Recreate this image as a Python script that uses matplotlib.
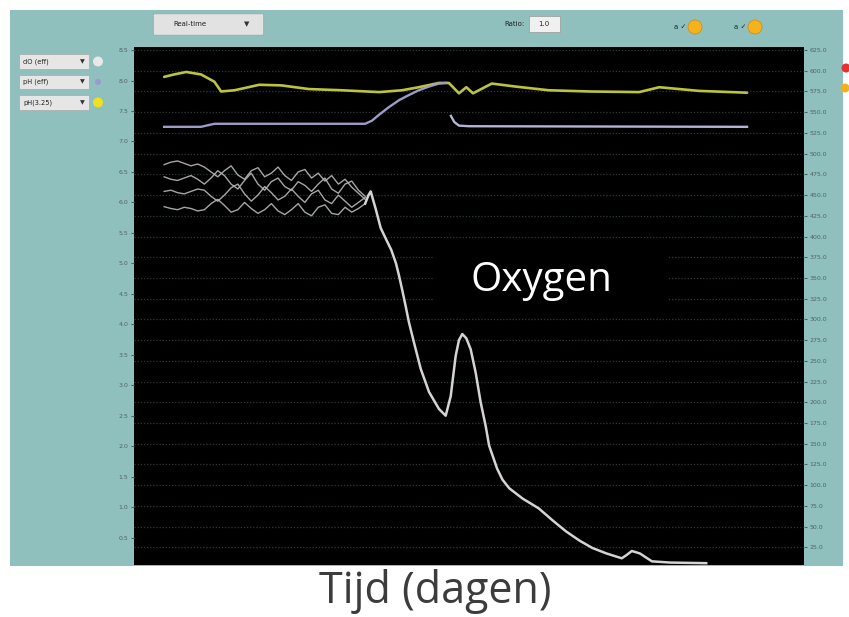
import matplotlib
matplotlib.use("Agg")
import matplotlib.pyplot as plt
from matplotlib.patches import Rectangle, FancyBboxPatch, Ellipse

# ---------------- data ----------------
# time axis (arbitrary units across the plot, 0..100)
ph_time = [4.5, 6.0, 7.8, 10.0, 12.0, 13.0, 15.0, 18.7, 22.0, 26.1, 31.0, 36.6, 40.0,
           42.5, 45.5, 47.0, 48.5, 49.6, 50.6, 53.4, 57.0, 61.9, 68.0, 75.4, 78.4, 84.3, 91.5]
ph_values = [8.06, 8.10, 8.14, 8.10, 7.98, 7.82, 7.84, 7.93, 7.92, 7.86, 7.84, 7.81, 7.84,
             7.89, 7.96, 7.96, 7.79, 7.89, 7.79, 7.95, 7.90, 7.84, 7.82, 7.81, 7.89, 7.83, 7.80]

ph2_time_a = [4.5, 10.0, 12.0, 34.5, 35.5, 36.6, 38.0, 39.6, 41.0, 42.5, 44.0, 45.5, 46.5]
ph2_values_a = [7.24, 7.24, 7.29, 7.29, 7.34, 7.44, 7.56, 7.68, 7.76, 7.84, 7.90, 7.95, 7.96]
ph2_time_b = [47.3, 47.8, 48.5, 50.0, 91.5]
ph2_values_b = [7.42, 7.32, 7.26, 7.25, 7.24]

noise_time = [4.5, 5.5, 6.5, 7.5, 8.5, 9.5, 10.5, 11.5, 12.5, 13.5, 14.5, 15.5, 16.5,
              17.5, 18.5, 19.5, 20.5, 21.5, 22.5, 23.5, 24.5, 25.5, 26.5, 27.5, 28.5,
              29.5, 30.5, 31.5, 32.5, 33.5, 34.5]
noise_a = [6.62, 6.66, 6.68, 6.64, 6.60, 6.63, 6.58, 6.50, 6.42, 6.52, 6.60, 6.45, 6.38,
           6.52, 6.57, 6.42, 6.48, 6.58, 6.44, 6.36, 6.50, 6.54, 6.40, 6.48, 6.35, 6.44,
           6.30, 6.38, 6.25, 6.15, 6.05]
noise_b = [6.42, 6.38, 6.36, 6.40, 6.44, 6.38, 6.30, 6.40, 6.52, 6.44, 6.30, 6.22, 6.36,
           6.48, 6.30, 6.20, 6.34, 6.40, 6.26, 6.20, 6.34, 6.28, 6.18, 6.30, 6.40, 6.22,
           6.15, 6.30, 6.35, 6.20, 6.10]
noise_c = [6.18, 6.20, 6.16, 6.14, 6.18, 6.22, 6.20, 6.10, 6.02, 6.12, 6.24, 6.30, 6.14,
           6.02, 6.12, 6.26, 6.16, 6.04, 6.10, 6.22, 6.10, 6.00, 6.14, 6.20, 6.04, 5.98,
           6.12, 6.02, 5.92, 6.00, 6.08]
noise_d = [5.93, 5.90, 5.88, 5.92, 5.90, 5.86, 5.88, 5.98, 6.05, 5.95, 5.84, 5.88, 6.00,
           5.90, 5.82, 5.88, 5.98, 5.86, 5.80, 5.88, 5.98, 5.84, 5.78, 5.92, 5.96, 5.82,
           5.80, 5.92, 5.84, 5.90, 5.98]

oxy_time = [34.5, 35.0, 35.33, 36.08, 36.82, 37.6, 38.4, 39.1, 39.55, 40.04, 40.54,
            41.04, 41.79, 42.79, 44.03, 45.52, 46.52, 47.27, 48.01, 48.5, 49.0, 49.6,
            50.25, 50.99, 51.74, 52.49, 53.0, 54.2, 55.0, 56.0, 58.0, 60.4, 62.5, 64.5,
            66.5, 68.4, 70.5, 72.8, 73.6, 74.3, 75.5, 77.3, 80.0, 85.4]
oxy_values = [5.98, 6.12, 6.18, 5.89, 5.58, 5.40, 5.22, 5.00, 4.80, 4.56, 4.30, 4.03,
              3.70, 3.27, 2.89, 2.61, 2.50, 2.82, 3.48, 3.74, 3.84, 3.77, 3.59, 3.21,
              2.72, 2.33, 2.01, 1.63, 1.45, 1.31, 1.14, 0.98, 0.78, 0.60, 0.45, 0.33,
              0.24, 0.16, 0.22, 0.28, 0.24, 0.11, 0.09, 0.08]

left_ticks = [0.5, 1.0, 1.5, 2.0, 2.5, 3.0, 3.5, 4.0, 4.5, 5.0, 5.5, 6.0, 6.5, 7.0,
              7.5, 8.0, 8.5]
right_ticks = [25, 50, 75, 100, 125, 150, 175, 200, 225, 250, 275, 300, 325, 350,
               375, 400, 425, 450, 475, 500, 525, 550, 575, 600, 625]
left_lim = (0.05, 8.55)
right_scale = 625 / 8.5

channel_labels = ["dO (eff)", "pH (eff)", "pH(3.25)"]
channel_colors = ["#e8e8e8", "#9a9ad0", "#f0e020"]

# ---------------- figure ----------------
W, H = 849, 617
fig = plt.figure(figsize=(W / 100, H / 100), dpi=100)
fig.patch.set_facecolor("white")

def fx(px):
    return px / W

def fy(py):
    return 1 - py / H

def dot(px, py, d, fc, ec="none"):
    fig.patches.append(Ellipse((fx(px), fy(py)), d / W, d / H,
                               transform=fig.transFigure, facecolor=fc,
                               edgecolor=ec, lw=0.5, zorder=3))

teal = "#8fc0bd"
fig.patches.append(Rectangle((fx(10), fy(566)), fx(843) - fx(10), fy(10) - fy(566),
                             transform=fig.transFigure, facecolor=teal,
                             edgecolor="none", zorder=-5))

ax_l, ax_r, ax_t, ax_b = 134, 804, 47, 565
ax2 = fig.add_axes([fx(ax_l), fy(ax_b), fx(ax_r) - fx(ax_l), fy(ax_t) - fy(ax_b)])
ax = ax2.twinx()  # lines drawn on top
ax2.set_facecolor("black")

# right (background) axis carries grid and right ticks
ax2.set_ylim(left_lim[0] * right_scale, left_lim[1] * right_scale)
ax2.set_xlim(0, 100)
ax2.set_xticks([])
ax2.yaxis.tick_right()
ax2.set_yticks(right_ticks)
ax2.set_yticklabels([f"{v:.1f}" for v in right_ticks])
ax2.tick_params(axis="y", labelsize=4.5, colors="#4f6464", length=2, pad=2)
ax2.grid(True, axis="y", color="#2e3a34", linestyle=(0, (1, 1.5)), linewidth=0.9)

ax.set_ylim(*left_lim)
ax.set_xlim(0, 100)
ax.yaxis.tick_left()
ax.set_yticks(left_ticks)
ax.set_yticklabels([f"{v:.1f}" for v in left_ticks])
ax.tick_params(axis="y", labelsize=4.5, colors="#4f6464", length=2, pad=2)
ax.patch.set_visible(False)
for a in (ax, ax2):
    for s in a.spines.values():
        s.set_visible(False)

# lines
ax.plot(ph_time, ph_values, color="#bcc43c", lw=1.9, solid_joinstyle="round",
        solid_capstyle="round")
ax.plot(ph2_time_a, ph2_values_a, color="#9c9cc8", lw=1.7, solid_joinstyle="round")
ax.plot(ph2_time_b, ph2_values_b, color="#b4b4d8", lw=1.7, solid_joinstyle="round")
for strand in (noise_a, noise_b, noise_c, noise_d):
    ax.plot(noise_time, strand, color="#b8b8b8", lw=1.0, alpha=0.9,
            solid_joinstyle="round")
ax.plot(oxy_time, oxy_values, color="#d4d4d4", lw=1.8, solid_joinstyle="round")

# Oxygen label box
fig.patches.append(Rectangle((fx(433), fy(312)), fx(668) - fx(433), fy(248) - fy(312),
                             transform=fig.transFigure, facecolor="black",
                             edgecolor="none", zorder=5))
fig.text(fx(541), fy(281), "Oxygen", color="white", fontsize=29, family="Open Sans",
         ha="center", va="center", zorder=6)

# x axis title
fig.text(fx(435), fy(591), "Tijd (dagen)", color="#3c3c3c", fontsize=31,
         family="Open Sans", ha="center", va="center")

# top toolbar
fig.patches.append(FancyBboxPatch((fx(155), fy(34)), fx(262) - fx(155), fy(15) - fy(34),
                                  boxstyle="round,pad=0.002", transform=fig.transFigure,
                                  facecolor="#e2e2e2", edgecolor="#9aa", lw=0.6, zorder=3))
fig.text(fx(190), fy(24.5), "Real-time", fontsize=5, color="#222", ha="center",
         va="center", zorder=4)
fig.text(fx(247), fy(24.5), "▼", fontsize=5, color="#333", ha="center", va="center",
         zorder=4)
fig.text(fx(525), fy(24), "Ratio:", fontsize=5, color="#222", ha="right", va="center")
fig.patches.append(Rectangle((fx(529), fy(32)), fx(560) - fx(529), fy(16) - fy(32),
                             transform=fig.transFigure, facecolor="#f0f0f0",
                             edgecolor="#999", lw=0.5, zorder=3))
fig.text(fx(544), fy(24), "1.0", fontsize=5, color="#222", ha="center", va="center",
         zorder=4)
for px in (695, 755):
    fig.text(fx(px - 9), fy(27), "a ✓", fontsize=5, color="#222", ha="right",
             va="center")
    dot(px, 27, 14, "#f4b21c", "#d08a10")

# left channel dropdowns
rows = [61.5, 82, 102.5]
for (py, lab, col) in zip(rows, channel_labels, channel_colors):
    fig.patches.append(Rectangle((fx(19), fy(py + 7)), fx(89) - fx(19), 14 / H,
                                 transform=fig.transFigure, facecolor="#e6e6e6",
                                 edgecolor="#aaaaaa", lw=0.5, zorder=3))
    fig.text(fx(23), fy(py), lab, fontsize=4.8, color="#222", ha="left", va="center",
             zorder=4)
    fig.text(fx(82), fy(py), "▼", fontsize=4.5, color="#333", ha="center",
             va="center", zorder=4)
    dot(98, py, 10 if col != "#9a9ad0" else 6, col)

# right side status dots
dot(846, 68, 9, "#e83030")
dot(845, 88, 9, "#f0b020")

fig.savefig("out.png", dpi=100)
